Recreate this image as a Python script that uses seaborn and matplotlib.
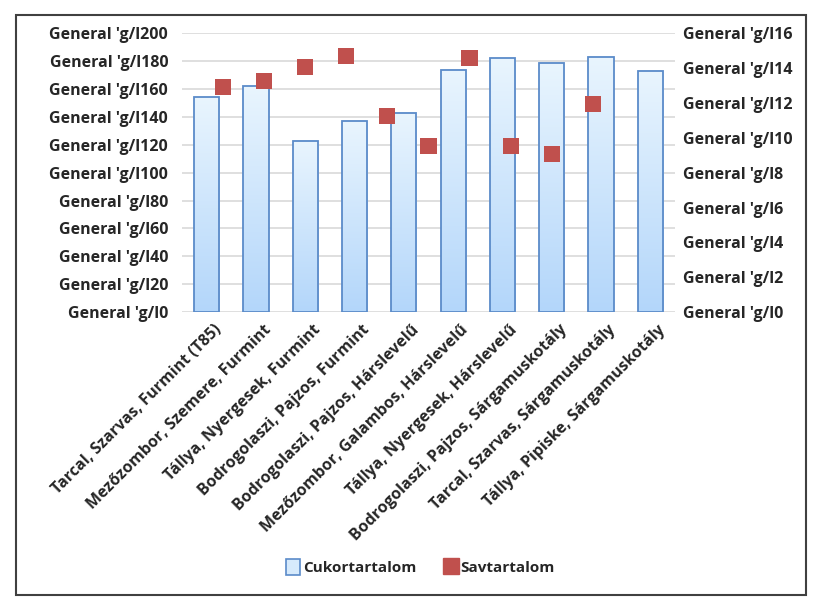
import numpy as np
import pandas as pd
import matplotlib.pyplot as plt
import seaborn as sns
from matplotlib.colors import LinearSegmentedColormap
from matplotlib.lines import Line2D
from matplotlib.patches import Patch, Rectangle
from matplotlib.transforms import ScaledTranslation

# --- data ---
sites = [
    "Tarcal, Szarvas, Furmint (T85)",
    "Mezőzombor, Szemere, Furmint",
    "Tállya, Nyergesek, Furmint",
    "Bodrogolaszi, Pajzos, Furmint",
    "Bodrogolaszi, Pajzos, Hárslevelű",
    "Mezőzombor, Galambos, Hárslevelű",
    "Tállya, Nyergesek, Hárslevelű",
    "Bodrogolaszi, Pajzos, Sárgamuskotály",
    "Tarcal, Szarvas, Sárgamuskotály",
    "Tállya, Pipiske, Sárgamuskotály",
]
cukor = [154, 162, 123, 137, 143, 174, 182, 179, 183, 173]   # g/l, left axis
sav_x = [1, 2, 3, 4, 5, 6, 7, 8, 9, 10]                       # scatter x (own 0..12 axis)
sav = [12.9, 13.25, 14.05, 14.7, 11.25, 9.55, 14.6, 9.55, 9.05, 11.95]  # g/l, right axis
left_ticks = list(range(0, 201, 20))
right_ticks = list(range(0, 17, 2))

sns.set_style("white")
plt.rcParams['font.family'] = ['Open Sans', 'DejaVu Sans']
plt.rcParams['font.weight'] = 'bold'
FS = 11.5

fig = plt.figure(figsize=(8.2, 6.06), dpi=100)
ax = fig.add_axes([0.222, 0.485, 0.601, 0.46])

df = pd.DataFrame({"hely": sites, "cukor": cukor})
sns.barplot(data=df, x="hely", y="cukor", ax=ax, width=0.51, color="#cfe6fb",
            saturation=1, edgecolor="#5b8bc9", linewidth=1.3, zorder=3)

# gradient fill inside the bars
grad = LinearSegmentedColormap.from_list("g", ["#b3d6fa", "#e9f5fe"])
for p in ax.patches:
    x0, y0 = p.get_x(), p.get_y()
    w, h = p.get_width(), p.get_height()
    ax.imshow(np.linspace(0, 1, 256).reshape(-1, 1), cmap=grad, origin="lower",
              extent=[x0, x0 + w, y0, y0 + h], aspect="auto", zorder=2)
    p.set_facecolor("none")

ax.set_xlim(-0.5, len(sites) - 0.5)
ax.set_ylim(0, 200)
ax.set_yticks(left_ticks)
ax.set_yticklabels([f"General 'g/l{v}" for v in left_ticks], fontsize=FS)
ax.grid(axis="y", color="#d9d9d9", linewidth=1.2, zorder=0)
ax.set_axisbelow(True)
ax.set_xlabel("")
ax.set_ylabel("")
ax.tick_params(axis="both", length=0)
ax.tick_params(axis="y", pad=10)
ax.tick_params(axis="x", pad=7)
ax.set_xticks(range(len(sites)))
ax.set_xticklabels(sites, rotation=45, ha="right", va="top",
                   rotation_mode="anchor", fontsize=FS)
shift = ScaledTranslation(5 / 72, 0, fig.dpi_scale_trans)
for t in ax.get_xticklabels():
    t.set_transform(t.get_transform() + shift)
for s in ax.spines.values():
    s.set_visible(False)

# secondary axes for acid content
ax2 = ax.twinx()
ax3 = ax2.twiny()
sns.scatterplot(x=sav_x, y=sav, ax=ax3, marker="s", s=135, color="#c0504d",
                edgecolor="none", zorder=5)
ax3.set_xlim(0, 12)
ax2.set_ylim(0, 16)
ax3.set_ylim(0, 16)
ax3.set_xticks([])
ax2.set_yticks(right_ticks)
ax2.set_yticklabels([f"General 'g/l{v}" for v in right_ticks], fontsize=FS)
ax2.tick_params(axis="y", length=0, pad=6)
for a in (ax2, ax3):
    for s in a.spines.values():
        s.set_visible(False)

handles = [
    Patch(facecolor="#d6eafc", edgecolor="#5b8bc9", linewidth=1.2, label="Cukortartalom"),
    Line2D([], [], marker="s", linestyle="none", markersize=11, color="#c0504d",
           label="Savtartalom"),
]
fig.legend(handles=handles, loc="center", bbox_to_anchor=(0.513, 0.064), ncol=2,
           frameon=False, fontsize=11, handlelength=0.9, handleheight=1.2,
           handletextpad=0.2, columnspacing=1.8)

fig.add_artist(Rectangle((16 / 820, 1 - 595 / 606), 790 / 820, 580 / 606,
                         transform=fig.transFigure, fill=False,
                         edgecolor="#404040", linewidth=1.5))

fig.savefig("out.png", dpi=100)
